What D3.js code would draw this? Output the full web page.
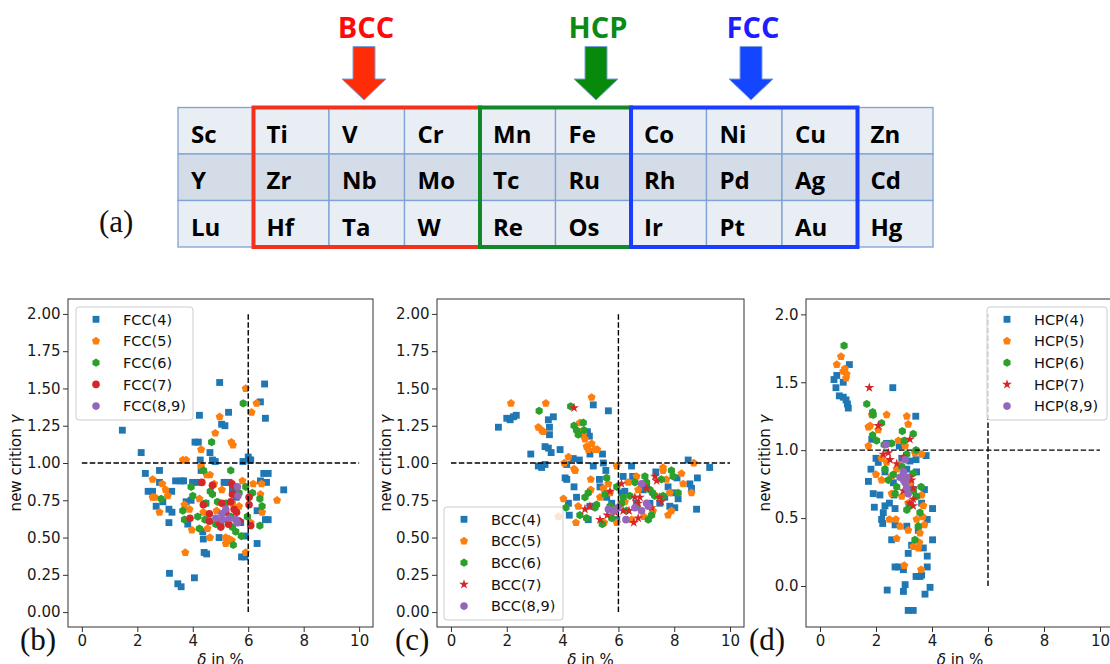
<!DOCTYPE html>
<html>
<head>
<meta charset="utf-8">
<script src="https://cdn.jsdelivr.net/npm/d3@7"></script>
<style>
  body { margin: 0; background: #fff; }
  svg text { fill: #111; }
</style>
</head>
<body>
<div id="chart"></div>
<script>
// ---- (a) periodic table ----
var tableRows = [
  ["Sc","Ti","V","Cr","Mn","Fe","Co","Ni","Cu","Zn"],
  ["Y","Zr","Nb","Mo","Tc","Ru","Rh","Pd","Ag","Cd"],
  ["Lu","Hf","Ta","W","Re","Os","Ir","Pt","Au","Hg"]
];
var groupNames = ["BCC", "HCP", "FCC"];
var groupFrom = [1, 4, 6];   // first column of each framed block
var groupTo = [3, 5, 8];     // last column

// ---- (b) FCC ----
var fcc4 = [[1.46,1.22],[2.14,1.07],[2.29,0.93],[2.39,0.81],[2.55,0.81],[2.80,0.95],[2.80,0.87],[2.68,0.71],[2.92,0.74],[3.14,0.69],[3.24,0.81],[3.14,0.60],[3.25,0.67],[3.16,0.26],[3.46,0.19],[3.58,0.17],[3.38,0.88],[3.58,0.88],[3.67,0.88],[4.06,0.23],[4.24,1.32],[4.08,1.14],[4.20,1.14],[4.27,1.02],[4.30,0.95],[3.99,0.87],[4.17,0.87],[3.76,0.74],[3.94,0.75],[3.82,0.59],[4.38,0.49],[4.41,0.40],[4.50,0.39],[4.62,1.07],[4.71,1.02],[4.81,1.01],[4.97,1.54],[5.04,1.26],[5.16,1.25],[5.29,1.34],[4.95,0.50],[5.13,0.87],[5.19,0.87],[5.31,0.87],[5.43,0.82],[5.76,0.37],[5.88,0.37],[5.81,1.01],[5.91,0.51],[6.00,1.04],[6.05,1.02],[6.09,1.02],[6.44,1.41],[6.59,1.53],[6.62,1.30],[6.32,0.46],[6.44,0.88],[6.56,0.93],[6.72,0.93],[6.66,0.87],[6.72,0.62],[6.62,0.62],[7.28,0.82],[6.32,0.68],[4.47,0.73],[5.57,0.77],[5.73,0.60],[4.36,0.54]];
var fcc5 = [[2.55,0.89],[2.55,0.77],[2.63,0.77],[2.90,0.86],[3.02,0.82],[3.10,0.78],[2.80,0.67],[3.64,1.02],[3.76,1.02],[3.70,0.72],[3.88,0.69],[3.97,0.55],[3.73,0.40],[4.30,1.09],[4.30,0.98],[4.50,0.92],[4.62,0.92],[4.81,1.20],[4.97,1.31],[5.39,1.14],[5.45,1.12],[5.91,1.50],[6.30,1.40],[6.12,1.34],[4.77,0.86],[4.62,0.50],[5.19,0.50],[5.31,0.49],[5.41,0.48],[5.91,0.40],[5.79,0.88],[6.18,0.86],[6.48,0.86],[6.44,0.79],[6.50,0.67],[7.04,0.75],[4.53,0.56],[4.24,0.76],[6.09,0.60],[4.38,0.67],[5.67,0.71],[5.19,0.46],[5.05,0.82],[5.43,0.73],[4.86,0.68]];
var fcc6 = [[2.86,0.76],[3.64,0.68],[3.70,0.62],[3.94,0.84],[4.00,0.78],[4.18,0.64],[4.39,0.95],[4.68,1.14],[4.63,0.81],[4.71,0.79],[4.44,0.62],[4.24,0.56],[5.37,0.95],[5.82,1.40],[5.91,0.84],[5.46,0.45],[5.55,0.54],[5.75,0.51],[5.19,0.73],[5.01,0.58],[4.83,0.59],[5.37,0.64],[6.42,0.76],[6.50,0.71],[6.42,0.58],[5.97,0.64],[6.15,0.80],[4.89,0.74],[4.47,0.73],[5.67,0.80],[5.43,0.57]];
var fcc7 = [[3.90,0.63],[4.33,0.87],[4.71,0.85],[4.38,0.72],[4.60,0.66],[4.60,0.61],[4.95,0.60],[5.05,0.73],[5.29,0.59],[5.01,0.57],[5.41,0.86],[5.55,0.84],[5.43,0.79],[5.49,0.69],[5.58,0.67],[5.37,0.74],[6.03,0.77],[6.03,0.72],[6.09,0.58],[5.67,0.61],[5.19,0.67]];
var fcc89 = [[4.83,0.63],[5.05,0.66],[5.19,0.69],[5.31,0.63],[5.07,0.62],[5.61,0.84],[5.63,0.78],[5.55,0.62],[5.61,0.60]];

// ---- (c) BCC ----
var bcc4 = [[1.70,1.24],[2.00,1.30],[2.12,1.29],[2.24,1.31],[2.34,1.32],[2.86,1.06],[3.13,0.98],[3.25,0.97],[3.37,0.99],[3.37,1.11],[3.49,1.10],[3.59,1.07],[3.49,1.29],[3.53,1.24],[3.53,1.19],[3.67,1.31],[3.91,1.09],[4.09,0.90],[4.15,0.89],[4.15,0.99],[4.38,1.03],[4.60,1.02],[4.41,0.84],[4.21,0.73],[4.24,0.65],[4.50,0.77],[4.89,1.21],[4.96,1.18],[4.98,1.06],[5.10,1.39],[5.10,0.98],[5.32,0.89],[5.43,1.06],[5.46,1.00],[5.64,1.35],[5.55,0.95],[4.92,0.62],[4.98,0.71],[5.34,0.84],[5.58,0.77],[5.76,0.73],[5.82,0.69],[6.17,0.91],[6.47,0.98],[6.51,0.91],[6.23,0.81],[6.65,0.73],[6.89,0.82],[7.13,0.73],[7.34,0.94],[7.48,0.73],[7.66,0.77],[7.78,0.84],[7.84,0.71],[8.02,0.70],[8.10,0.90],[8.14,0.76],[8.50,1.02],[8.56,0.86],[8.62,0.83],[8.80,0.69],[8.83,0.90],[9.27,0.97],[5.94,0.62],[6.11,0.80],[7.01,0.84],[7.96,0.80]];
var bcc5 = [[2.15,1.40],[3.40,1.40],[3.13,1.24],[3.25,1.22],[3.31,1.21],[3.85,0.64],[4.03,0.76],[4.06,1.00],[4.21,1.04],[4.41,0.96],[4.45,0.95],[4.48,0.60],[4.56,0.71],[4.62,1.27],[4.68,1.21],[4.74,1.19],[4.80,1.16],[4.86,1.11],[4.92,1.09],[5.04,1.44],[5.04,1.13],[5.01,0.89],[5.01,0.82],[5.16,1.09],[5.24,1.09],[5.34,0.77],[5.46,0.83],[5.64,0.86],[5.70,0.80],[5.94,0.98],[5.94,0.60],[6.23,0.74],[6.35,0.87],[6.65,0.91],[6.71,0.82],[6.91,0.64],[7.27,0.79],[7.60,0.97],[7.60,0.95],[7.72,0.89],[7.78,0.65],[7.84,0.80],[7.90,0.68],[8.26,0.93],[8.32,0.86],[8.62,0.80],[8.70,1.00],[5.49,0.60],[5.82,0.69],[6.47,0.62],[7.24,0.68]];
var bcc6 = [[3.16,1.35],[4.29,1.38],[4.41,1.25],[4.50,1.22],[4.56,1.19],[4.74,1.27],[4.77,1.22],[4.12,0.70],[4.62,0.65],[4.80,0.77],[4.86,0.63],[4.92,0.80],[5.16,0.70],[5.22,0.72],[5.42,0.59],[5.58,0.90],[5.70,0.71],[5.76,0.63],[5.94,0.84],[6.11,0.73],[6.17,0.77],[6.41,0.78],[6.59,0.87],[6.65,0.71],[6.95,0.91],[7.01,0.87],[7.07,0.62],[7.13,0.82],[7.22,0.80],[7.30,0.78],[7.54,0.89],[7.60,0.78],[7.90,0.95],[7.96,0.91],[8.14,0.80],[7.19,0.65],[5.52,0.79],[6.29,0.68]];
var bcc7 = [[4.41,1.37],[4.80,0.69],[4.98,0.71],[5.34,0.62],[5.60,0.65],[5.70,0.81],[5.99,0.71],[6.11,0.86],[6.17,0.68],[6.38,0.68],[6.55,0.60],[6.59,0.77],[6.71,0.63],[6.77,0.77],[7.01,0.83],[7.19,0.70],[7.31,0.91],[7.37,0.88],[7.46,0.77],[7.54,0.74],[6.71,0.73],[5.88,0.67]];
var bcc89 = [[5.64,0.69],[5.82,0.68],[5.99,0.70],[6.27,0.62],[6.59,0.70],[6.83,0.86],[7.01,0.73],[7.07,0.71],[6.83,0.68]];

// ---- (d) HCP ----
var hcp4 = [[0.50,1.52],[0.60,1.55],[0.57,1.46],[0.69,1.40],[0.83,1.50],[0.83,1.39],[0.93,1.37],[0.98,1.34],[1.01,1.31],[1.05,1.63],[1.73,0.77],[1.82,0.86],[1.85,1.08],[1.90,0.68],[1.94,0.58],[2.00,0.94],[2.08,0.91],[2.14,0.67],[2.20,0.49],[2.24,0.46],[2.26,0.54],[2.32,0.84],[2.32,0.59],[2.40,-0.03],[2.38,1.05],[2.56,0.34],[2.60,1.46],[2.62,0.76],[2.64,0.67],[2.68,0.57],[2.68,0.45],[2.68,0.14],[2.80,0.14],[2.98,0.12],[2.98,-0.04],[3.04,0.01],[3.10,0.44],[3.15,-0.18],[3.15,0.24],[3.33,-0.18],[3.27,0.30],[3.10,0.86],[3.21,0.92],[3.42,1.25],[3.43,0.93],[3.45,0.84],[3.51,0.41],[3.43,0.07],[3.57,0.07],[3.63,0.08],[3.69,0.28],[3.73,0.71],[3.75,-0.06],[3.79,0.96],[3.83,0.14],[3.83,0.22],[3.83,0.49],[3.93,-0.01],[4.02,0.34],[4.02,0.57],[3.63,0.61],[2.92,0.94],[3.33,0.71],[2.83,1.03],[2.48,0.61]];
var hcp5 = [[0.60,1.63],[0.75,1.69],[0.83,1.58],[0.89,1.60],[0.93,1.53],[0.95,1.56],[1.73,1.17],[1.79,1.18],[1.73,1.03],[1.85,1.26],[2.00,0.82],[2.08,1.15],[2.20,0.94],[2.20,0.78],[2.38,1.26],[2.48,0.49],[2.56,0.68],[2.71,0.49],[2.74,0.35],[2.86,0.44],[2.80,1.07],[3.01,0.15],[3.10,1.25],[3.15,1.19],[3.15,0.41],[3.15,0.61],[3.33,0.29],[3.39,0.98],[3.45,0.49],[3.51,0.28],[3.55,0.32],[3.57,0.39],[3.61,0.12],[3.63,0.97],[3.67,0.51],[3.69,0.59],[3.73,0.45],[3.63,0.67],[2.74,0.86],[2.38,0.91],[2.56,0.81],[3.21,0.76],[2.92,0.66],[3.04,1.03]];
var hcp6 = [[0.86,1.77],[1.67,1.34],[1.88,1.28],[1.90,1.26],[2.20,1.20],[1.88,1.11],[2.02,1.07],[2.29,1.04],[2.56,1.05],[2.94,1.14],[3.01,1.07],[3.33,1.12],[3.43,1.00],[3.10,0.97],[2.32,0.86],[2.44,0.78],[2.62,0.82],[2.74,0.73],[2.92,0.88],[2.98,0.81],[3.10,0.56],[3.21,0.59],[3.33,0.83],[3.39,0.34],[3.45,0.66],[3.51,0.44],[3.57,0.54],[3.61,0.73],[2.68,0.68],[3.33,0.70]];
var hcp7 = [[1.76,1.46],[2.08,1.18],[2.26,0.97],[2.44,0.98],[2.50,0.93],[2.74,0.90],[2.98,0.95],[3.21,1.08],[3.21,0.80],[3.27,0.78],[2.98,0.70],[3.33,0.72],[3.33,0.64],[3.33,0.59],[3.21,0.61]];
var hcp89 = [[2.35,1.04],[2.98,0.84],[3.04,0.93],[2.86,0.80],[2.98,0.78],[3.04,0.76],[3.10,0.72],[3.15,0.68],[3.10,0.80]];

var xTicks = [0, 2, 4, 6, 8, 10];
var yTicks2 = [0, 0.25, 0.5, 0.75, 1, 1.25, 1.5, 1.75, 2];
var yTicks1 = [0, 0.5, 1, 1.5, 2];
var seriesNums = ["4", "5", "6", "7", "8,9"];

var colors = ["#1f77b4", "#ff7f0e", "#2ca02c", "#d62728", "#9467bd"];

var svg = d3.select("#chart").append("svg")
  .attr("width", 1110)
  .attr("height", 664);

// custom polygon markers (pentagon / hexagon like matplotlib 'p' and 'h')
function polygonSymbol(n) {
  return {
    draw: function(ctx, size) {
      var r = Math.sqrt(size);
      for (var i = 0; i < n; i++) {
        var a = -Math.PI / 2 + i * 2 * Math.PI / n;
        if (i == 0) ctx.moveTo(r * Math.cos(a), r * Math.sin(a));
        else ctx.lineTo(r * Math.cos(a), r * Math.sin(a));
      }
      ctx.closePath();
    }
  };
}
var markers = {
  square: d3.symbol().type(d3.symbolSquare).size(47),
  pentagon: d3.symbol().type(polygonSymbol(5)).size(18),
  hexagon: d3.symbol().type(polygonSymbol(6)).size(17),
  circle: d3.symbol().type(d3.symbolCircle).size(45),
  star: d3.symbol().type(d3.symbolStar).size(30)
};

// ================= (a) =================
var col = d3.scaleBand().domain(d3.range(10)).range([178, 933]);
var row = d3.scaleBand().domain(d3.range(3)).range([107.5, 247]);
var rowFill = ["#e9edf4", "#d4dce8", "#e9edf4"];

var table = svg.append("g");
tableRows.forEach(function(r, i) {
  r.forEach(function(el, j) {
    table.append("rect")
      .attr("x", col(j)).attr("y", row(i))
      .attr("width", col.bandwidth()).attr("height", row.bandwidth())
      .attr("fill", rowFill[i])
      .attr("stroke", "#7ea3d4")
      .attr("stroke-width", 1.3);
    table.append("text")
      .attr("x", col(j) + 13)
      .attr("y", row(i) + 35)
      .attr("font-family", "Open Sans")
      .attr("font-weight", 700)
      .attr("font-size", 24)
      .style("fill", "#000")
      .text(el);
  });
});

var frameColors = ["#f2321c", "#12882a", "#1a3dff"];
var arrowColors = ["#ff2c08", "#07890b", "#1446ff"];
var textColors = ["#ff0a0a", "#0b8a16", "#1d1dff"];
var arrowX = [364, 596, 751];
[0, 1, 2].forEach(function(g) {
  table.append("rect")
    .attr("x", col(groupFrom[g]))
    .attr("y", 107.5)
    .attr("width", col(groupTo[g]) + col.bandwidth() - col(groupFrom[g]))
    .attr("height", 139.5)
    .attr("fill", "none")
    .attr("stroke", frameColors[g])
    .attr("stroke-width", 4);
});

groupNames.forEach(function(name, g) {
  var cx = arrowX[g];
  var pts = [[cx - 11, 46.5], [cx + 11, 46.5], [cx + 11, 79], [cx + 22, 79],
             [cx, 100], [cx - 22, 79], [cx - 11, 79]];
  svg.append("path")
    .attr("d", d3.line()(pts) + "Z")
    .attr("fill", arrowColors[g])
    .attr("stroke", "#7aa0d8")
    .attr("stroke-width", 1);
  svg.append("text")
    .attr("x", cx + 2)
    .attr("y", 37.5)
    .attr("text-anchor", "middle")
    .attr("font-family", "Open Sans")
    .attr("font-weight", 700)
    .attr("font-size", 29)
    .style("fill", textColors[g])
    .text(name);
});

svg.append("text")
  .attr("x", 99).attr("y", 232)
  .attr("font-family", "Liberation Serif")
  .attr("font-size", 31)
  .text("(a)");

// ================= (b) (c) (d) =================
var panels = [
  { tag: "(b)", name: "FCC", left: 68, right: 373, yDomain: [-0.1, 2.1], yTicks: yTicks2, fmt: ".2f",
    data: [fcc4, fcc5, fcc6, fcc7, fcc89],
    shapes: ["square", "pentagon", "hexagon", "circle", "circle"],
    legend: [76, 307, 117, 113], tagX: 20, ylabX: 21 },
  { tag: "(c)", name: "BCC", left: 437, right: 744, yDomain: [-0.1, 2.1], yTicks: yTicks2, fmt: ".2f",
    data: [bcc4, bcc5, bcc6, bcc7, bcc89],
    shapes: ["square", "pentagon", "hexagon", "star", "circle"],
    legend: [444, 507, 119, 113], tagX: 395, ylabX: 390.5 },
  { tag: "(d)", name: "HCP", left: 806, right: 1114, yDomain: [-0.302, 2.113], yTicks: yTicks1, fmt: ".1f",
    data: [hcp4, hcp5, hcp6, hcp7, hcp89],
    shapes: ["square", "pentagon", "hexagon", "star", "circle"],
    legend: [987, 307, 120, 113], tagX: 749, ylabX: 770 }
];

var plotTop = 299, plotBottom = 627;

panels.forEach(function(p) {
  var x = d3.scaleLinear().domain([-0.5, 10.5]).range([p.left, p.right]);
  var y = d3.scaleLinear().domain(p.yDomain).range([plotBottom, plotTop]);
  var g = svg.append("g");

  // points
  p.data.forEach(function(d, k) {
    g.append("g").selectAll("path")
      .data(d)
      .enter()
      .append("path")
      .attr("transform", function(v) { return "translate(" + x(v[0]) + "," + y(v[1]) + ")"; })
      .attr("d", markers[p.shapes[k]])
      .attr("fill", colors[k]);
  });

  // dashed guide lines
  g.append("line")
    .attr("x1", x(0)).attr("x2", x(10))
    .attr("y1", y(1)).attr("y2", y(1))
    .attr("stroke", "#000").attr("stroke-width", 1.4)
    .attr("stroke-dasharray", "5.5,2.4");
  g.append("line")
    .attr("x1", x(6)).attr("x2", x(6))
    .attr("y1", y(0)).attr("y2", y(2))
    .attr("stroke", "#000").attr("stroke-width", 1.4)
    .attr("stroke-dasharray", "5.5,2.4");

  // axes
  var xAxis = g.append("g")
    .attr("transform", "translate(0," + plotBottom + ")")
    .call(d3.axisBottom(x).tickValues(xTicks).tickSize(5).tickPadding(3));
  var yAxis = g.append("g")
    .attr("transform", "translate(" + p.left + ",0)")
    .call(d3.axisLeft(y).tickValues(p.yTicks).tickFormat(d3.format(p.fmt)).tickSize(5).tickPadding(2.5));
  [xAxis, yAxis].forEach(function(a) {
    a.select(".domain").remove();
    a.selectAll("line").attr("stroke", "#333");
    a.selectAll("text")
      .attr("font-family", "DejaVu Sans")
      .attr("font-size", 15)
      .style("fill", "#1a1a1a");
  });

  g.append("rect")
    .attr("x", p.left).attr("y", plotTop)
    .attr("width", p.right - p.left).attr("height", plotBottom - plotTop)
    .attr("fill", "none")
    .attr("stroke", "#333")
    .attr("stroke-width", 1);

  // axis titles
  var xl = g.append("text")
    .attr("x", x(5))
    .attr("y", 665)
    .attr("text-anchor", "middle")
    .attr("font-family", "DejaVu Sans")
    .attr("font-size", 15);
  xl.append("tspan").attr("font-style", "italic").text("δ");
  xl.append("tspan").text(" in %");

  var yl = g.append("text")
    .attr("transform", "translate(" + p.ylabX + "," + (plotTop + plotBottom) / 2 + ") rotate(-90)")
    .attr("text-anchor", "middle")
    .attr("font-family", "DejaVu Sans")
    .attr("font-size", 15);
  yl.append("tspan").text("new crition ");
  yl.append("tspan").attr("font-style", "italic").text("γ");

  // legend
  var L = p.legend;
  var lg = g.append("g");
  lg.append("rect")
    .attr("x", L[0]).attr("y", L[1])
    .attr("width", L[2]).attr("height", L[3])
    .attr("rx", 3)
    .attr("fill", "#fff").attr("fill-opacity", 0.8)
    .attr("stroke", "#cccccc").attr("stroke-width", 1);
  seriesNums.forEach(function(n, k) {
    var ry = L[1] + 12.3 + k * 21.7;
    lg.append("path")
      .attr("transform", "translate(" + (L[0] + 20) + "," + ry + ")")
      .attr("d", markers[p.shapes[k]])
      .attr("fill", colors[k]);
    lg.append("text")
      .attr("x", L[0] + 47).attr("y", ry)
      .attr("dy", "0.36em")
      .attr("font-family", "DejaVu Sans")
      .attr("font-size", 14.5)
      .text(p.name + "(" + n + ")");
  });

  svg.append("text")
    .attr("x", p.tagX).attr("y", 650)
    .attr("font-family", "Liberation Serif")
    .attr("font-size", 31)
    .text(p.tag);
});
</script>
</body>
</html>
